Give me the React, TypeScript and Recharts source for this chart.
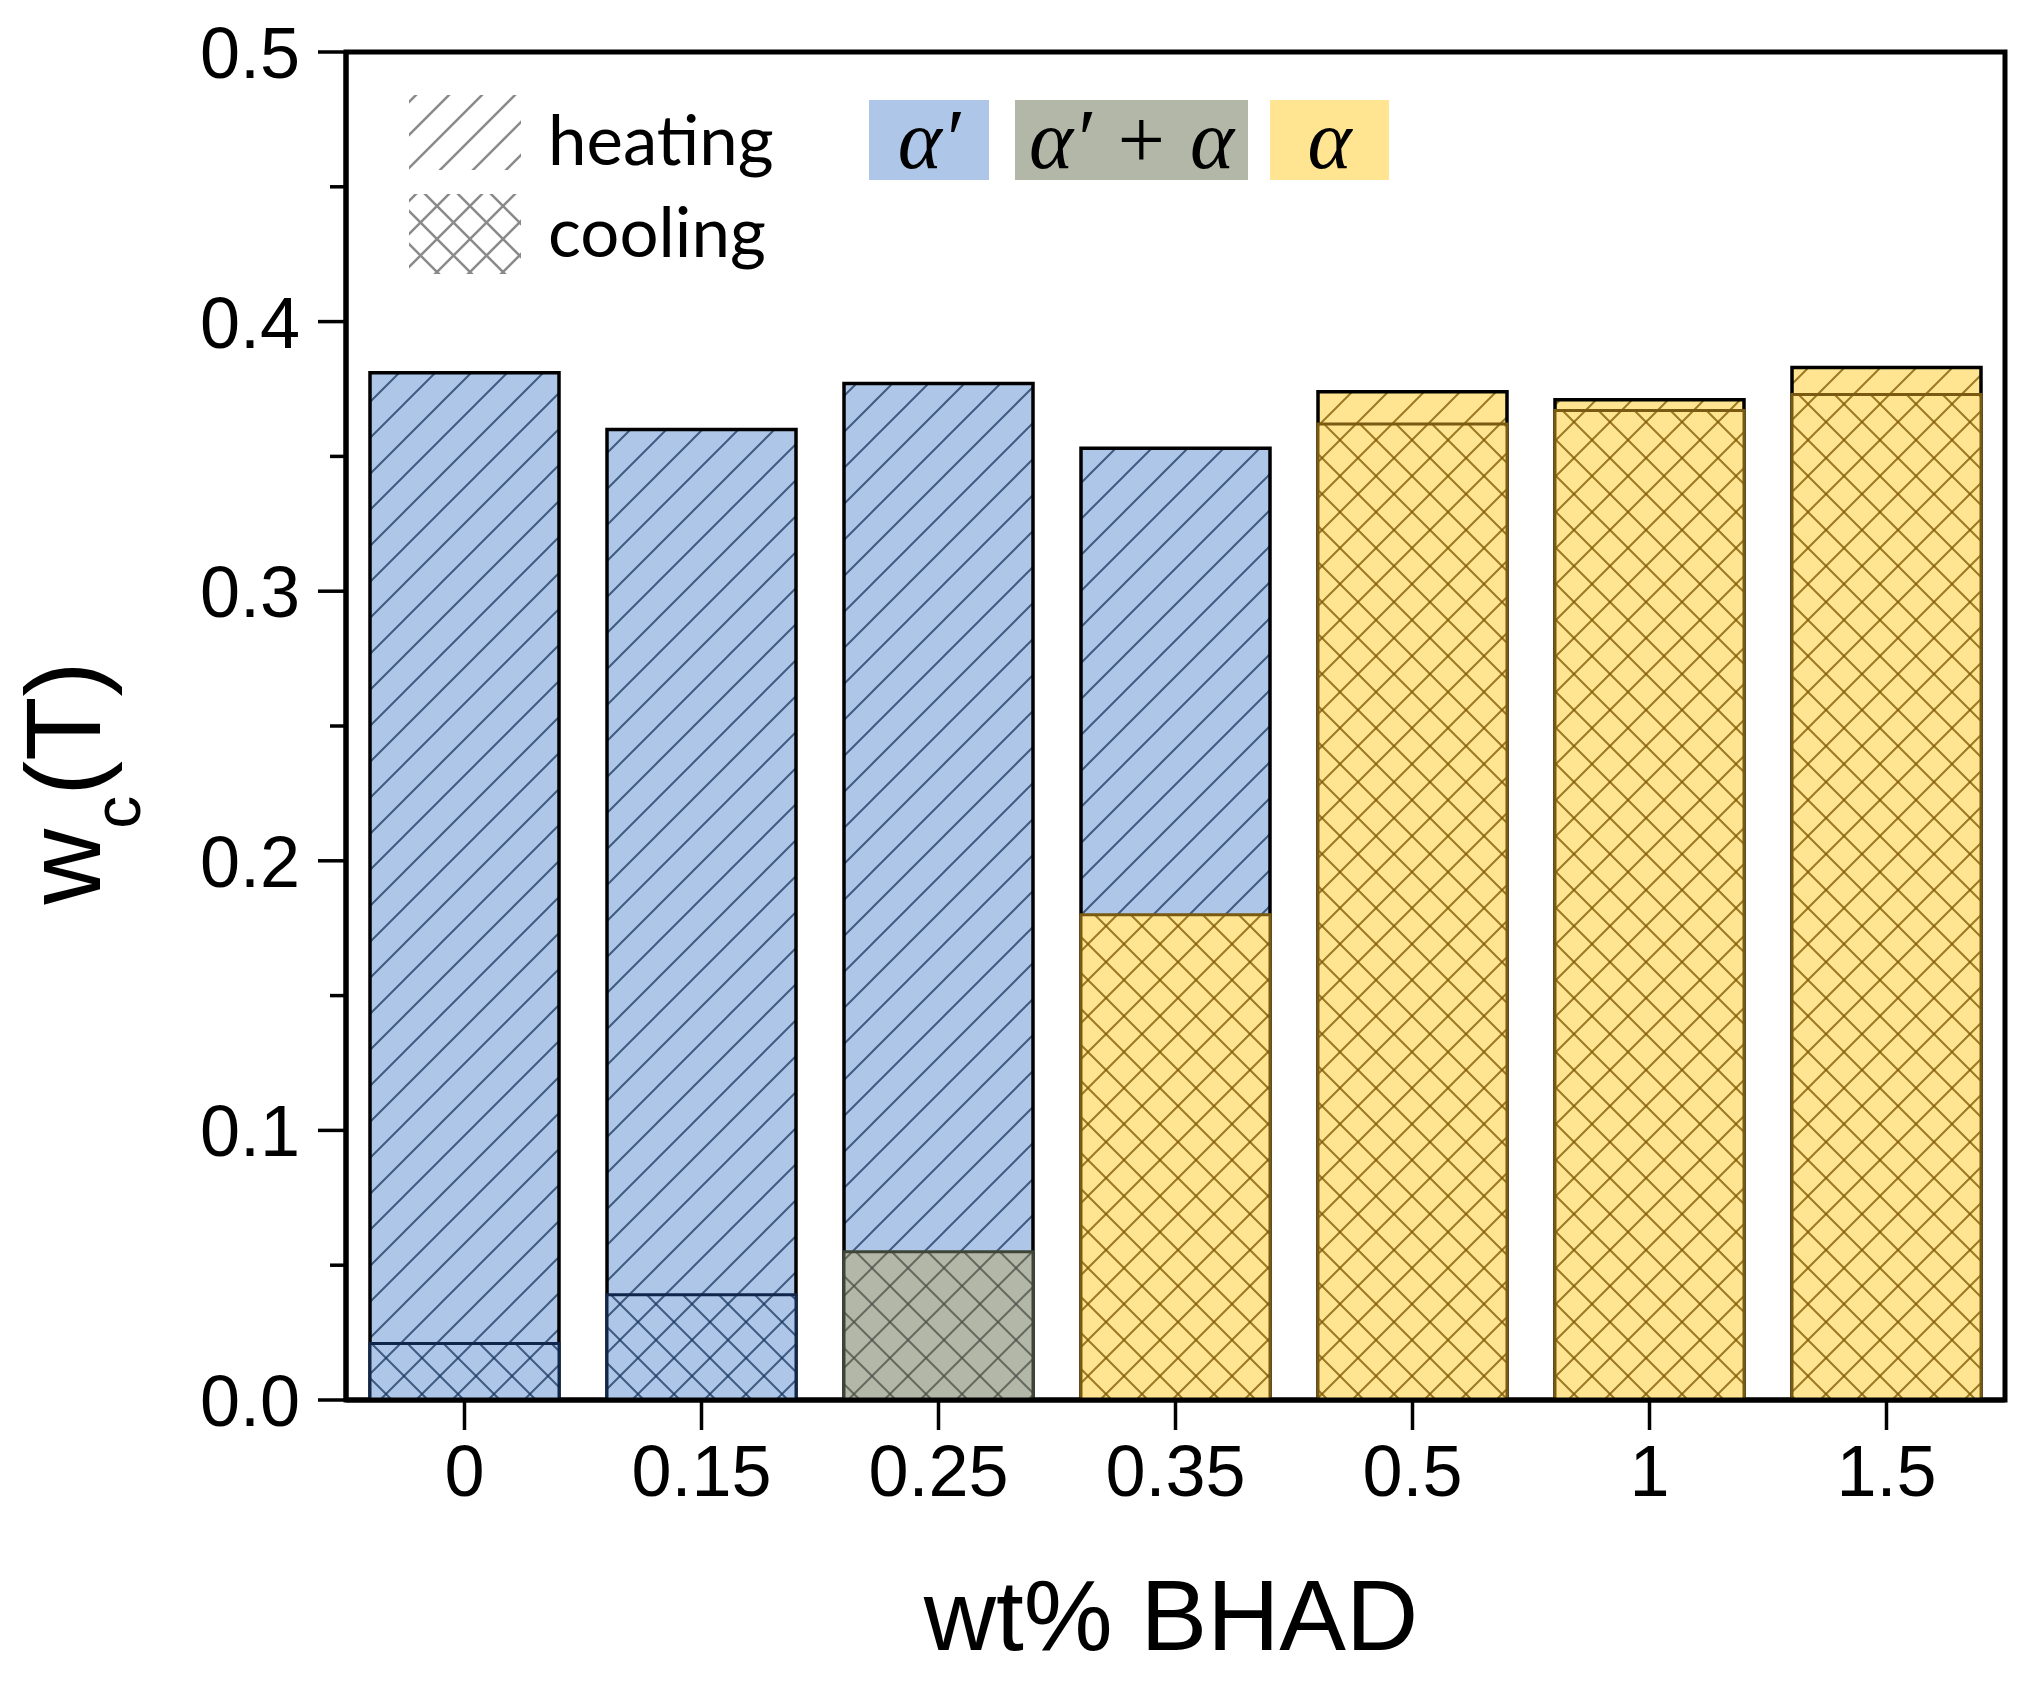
import React from 'react';
import { BarChart, Bar, XAxis, YAxis, Cell, ReferenceArea } from 'recharts';

// wt% BHAD categories and the two peak widths w_c(T)
const categories = ['0', '0.15', '0.25', '0.35', '0.5', '1', '1.5'];
const heating = [0.381, 0.36, 0.377, 0.353, 0.374, 0.371, 0.383];
const cooling = [0.021, 0.039, 0.055, 0.18, 0.362, 0.367, 0.373];
// phase seen in each run: 'p' = α′, 'm' = α′ + α, 'a' = α
const heatingPhase = ['p', 'p', 'p', 'p', 'a', 'a', 'a'];
const coolingPhase = ['p', 'p', 'm', 'a', 'a', 'a', 'a'];
// major ticks carry a label, the others are minor
const yTicks = [0, 0.05, 0.1, 0.15, 0.2, 0.25, 0.3, 0.35, 0.4, 0.45, 0.5];
const yMajor = [0, 0.1, 0.2, 0.3, 0.4, 0.5];

const phaseStyle: Record<string, { fill: string; line: string; edge: string }> = {
  p: { fill: '#aec6e8', line: '#1b365e', edge: '#10264a' },
  m: { fill: '#b3b7a8', line: '#4a5046', edge: '#3f4536' },
  a: { fill: '#ffe491', line: '#7a5600', edge: '#7a5a10' },
};

const chartData = categories.map((c, i) => ({
  wt: c,
  heating: heating[i],
  cooling: cooling[i],
}));

const SLASH = 'M-9,9 L9,-9 M0,36 L36,0 M27,45 L45,27';
const BACK = 'M-9,27 L9,45 M0,0 L36,36 M27,-9 L45,9';

const Patterns = () => (
  <svg width={0} height={0} style={{ position: 'absolute' }}>
    <defs>
      {Object.keys(phaseStyle).map((k) => (
        <React.Fragment key={k}>
          <pattern id={`hatch-${k}`} patternUnits="userSpaceOnUse" width={36} height={36}>
            <rect width={36} height={36} fill={phaseStyle[k].fill} />
            <path d={SLASH} stroke={phaseStyle[k].line} strokeWidth={2} strokeOpacity={0.75} />
          </pattern>
          <pattern id={`cross-${k}`} patternUnits="userSpaceOnUse" width={36} height={36}>
            <rect width={36} height={36} fill={phaseStyle[k].fill} />
            <path d={SLASH} stroke={phaseStyle[k].line} strokeWidth={2} strokeOpacity={0.75} />
            <path d={BACK} stroke={phaseStyle[k].line} strokeWidth={2} strokeOpacity={0.75} />
          </pattern>
        </React.Fragment>
      ))}
      <pattern id="key-hatch" patternUnits="userSpaceOnUse" width={33} height={33}>
        <path d="M-9,9 L9,-9 M0,33 L33,0 M24,42 L42,24" stroke="#8a8a8a" strokeWidth={2.5} />
      </pattern>
      <pattern id="key-cross" patternUnits="userSpaceOnUse" width={33} height={33}>
        <path d="M-9,9 L9,-9 M0,33 L33,0 M24,42 L42,24" stroke="#8a8a8a" strokeWidth={2.5} />
        <path d="M-9,24 L9,42 M0,0 L33,33 M24,-9 L42,9" stroke="#8a8a8a" strokeWidth={2.5} />
      </pattern>
    </defs>
  </svg>
);

const phaseKeys = [
  { label: 'α′', k: 'p', x: 861, w: 120 },
  { label: 'α′ + α', k: 'm', x: 1007, w: 233 },
  { label: 'α', k: 'a', x: 1262, w: 119 },
];

const LegendOverlay = () => (
  <svg width={2013} height={300} style={{ position: 'absolute', left: 0, top: 0, pointerEvents: 'none' }}>
    <rect x={401} y={87} width={112} height={75} fill="url(#key-hatch)" />
    <rect x={401} y={186} width={112} height={80} fill="url(#key-cross)" />
    <text x={540} y={157} fontFamily="Lato" fontSize={69} fill="#000">heating</text>
    <text x={540} y={249} fontFamily="Lato" fontSize={69} fill="#000">cooling</text>
    {phaseKeys.map((p) => (
      <g key={p.k}>
        <rect x={p.x} y={92} width={p.w} height={80} fill={phaseStyle[p.k].fill} />
        <text
          x={p.x + p.w / 2}
          y={160}
          textAnchor="middle"
          fontFamily="Liberation Serif"
          fontStyle="italic"
          fontSize={84}
          fill="#000"
        >
          {p.label}
        </text>
      </g>
    ))}
  </svg>
);

const XTitle = () => (
  <text x={1163} y={1642} textAnchor="middle" fontFamily="Liberation Sans" fontSize={100} fill="#000">
    wt% BHAD
  </text>
);

const YTitle = () => (
  <text
    x={92}
    y={775}
    transform="rotate(-90 92 775)"
    textAnchor="middle"
    fontFamily="Liberation Sans"
    fontSize={105}
    fill="#000"
  >
    w
    <tspan fontSize={66} dy={40}>c</tspan>
    <tspan dy={-40}>(T)</tspan>
  </text>
);

const Y_TICK = 28;
const Y_MINOR = 16;
const Y_GAP = 18;

// left-axis tick: draws its own tick mark (long for labelled values, short for minor)
const YTick = (props: any) => {
  const { x, y, payload } = props;
  const axisX = x + Y_TICK + Y_GAP;
  const v = payload.value as number;
  const major = yMajor.some((m) => Math.abs(m - v) < 1e-9);
  return (
    <g>
      <line
        x1={axisX - (major ? Y_TICK : Y_MINOR)}
        x2={axisX}
        y1={y}
        y2={y}
        stroke="#000"
        strokeWidth={3.5}
      />
      {major && (
        <text
          x={x}
          y={y}
          dy="0.36em"
          textAnchor="end"
          fontFamily="Liberation Sans"
          fontSize={72}
          fill="#000"
        >
          {v.toFixed(1)}
        </text>
      )}
    </g>
  );
};

export default function App() {
  return (
    <div style={{ position: 'relative', width: 2013, height: 1671 }}>
      <Patterns />
      <BarChart
        width={2013}
        height={1671}
        data={chartData}
        margin={{ top: 44, right: 16, left: 0, bottom: 0 }}
      >
        <XAxis
          xAxisId="h"
          dataKey="wt"
          height={279}
          tick={{ fontSize: 72, fill: '#000', fontFamily: 'Liberation Sans' }}
          tickSize={30}
          tickMargin={15}
          axisLine={{ stroke: '#000', strokeWidth: 5 }}
          tickLine={{ stroke: '#000', strokeWidth: 3.5 }}
          label={{ content: () => <XTitle /> }}
        />
        <XAxis xAxisId="c" dataKey="wt" hide height={0} />
        <YAxis
          domain={[0, 0.5]}
          ticks={yTicks}
          width={338}
          tick={<YTick />}
          tickSize={Y_TICK}
          tickMargin={Y_GAP}
          tickLine={false}
          axisLine={{ stroke: '#000', strokeWidth: 5 }}
          label={{ content: () => <YTitle /> }}
        />
        <Bar xAxisId="h" dataKey="heating" barSize={189} stroke="#000" strokeWidth={3.5} isAnimationActive={false}>
          {chartData.map((_, i) => (
            <Cell key={`h-${i}`} fill={`url(#hatch-${heatingPhase[i]})`} />
          ))}
        </Bar>
        <Bar xAxisId="c" dataKey="cooling" barSize={189} strokeWidth={3} isAnimationActive={false}>
          {chartData.map((_, i) => (
            <Cell
              key={`c-${i}`}
              fill={`url(#cross-${coolingPhase[i]})`}
              stroke={phaseStyle[coolingPhase[i]].edge}
            />
          ))}
        </Bar>
        <ReferenceArea
          xAxisId="h"
          x1={categories[0]}
          x2={categories[categories.length - 1]}
          y1={0}
          y2={0.5}
          fill="none"
          stroke="#000"
          strokeWidth={5}
          ifOverflow="visible"
        />
      </BarChart>
      <LegendOverlay />
    </div>
  );
}
